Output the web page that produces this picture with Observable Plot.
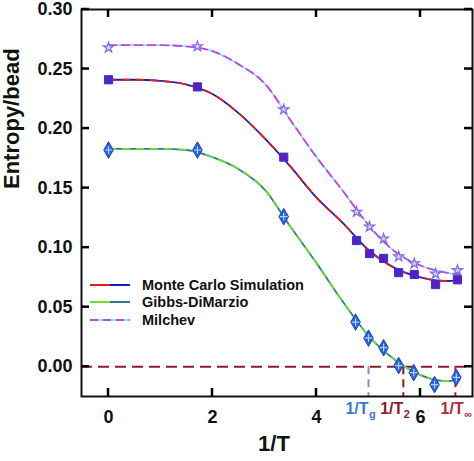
<!DOCTYPE html>
<html>
<head>
<meta charset="utf-8">
<script src="https://cdn.jsdelivr.net/npm/d3@7"></script>
<script src="https://cdn.jsdelivr.net/npm/@observablehq/plot@0.6"></script>
<style>
  body { margin: 0; background: #fff; font-family: "Liberation Sans", Arial, sans-serif; }
  #chart { position: relative; width: 474px; height: 461px; }
  #legend { position: absolute; left: 90px; top: 276px; font-weight: bold; font-size: 14.5px; color: #111; }
  #legend .row { display: flex; align-items: center; height: 17.5px; }
  #legend svg { margin-right: 12px; }
</style>
</head>
<body>
<div id="chart"></div>
<script>
// axis ticks
const xTicks = [0, 2, 4, 6];
const yTicks = [0, 0.05, 0.10, 0.15, 0.20, 0.25, 0.30];
const xMin = -0.52, xMax = 7.0, yMin = -0.025, yMax = 0.30;

// simulation / theory points
const mcX = [0, 1.71, 3.37, 4.77, 5.02, 5.29, 5.58, 5.88, 6.29, 6.71];
const mcY = [0.241, 0.235, 0.176, 0.106, 0.095, 0.091, 0.079, 0.0775, 0.069, 0.073];
const gdX = [0, 1.71, 3.37, 4.75, 5.0, 5.29, 5.58, 5.87, 6.27, 6.69];
const gdY = [0.182, 0.182, 0.126, 0.0375, 0.024, 0.016, 0.001, -0.005, -0.015, -0.009];
const miX = [0, 1.71, 3.37, 4.77, 5.02, 5.29, 5.58, 5.88, 6.29, 6.71];
const miY = [0.268, 0.269, 0.216, 0.130, 0.1175, 0.1075, 0.0925, 0.0867, 0.078, 0.081];

// fitted curves
const fitX  = [0, 0.5, 1, 1.5, 2, 2.5, 3, 3.5, 4, 4.5, 5, 5.5, 6, 6.5, 6.75];
const mcFit = [0.241, 0.241, 0.240, 0.237, 0.229, 0.213, 0.192, 0.168, 0.142, 0.121, 0.098, 0.083, 0.075, 0.072, 0.073];
const gdFit = [0.183, 0.183, 0.183, 0.182, 0.176, 0.166, 0.149, 0.1175, 0.087, 0.055, 0.026, 0.006, -0.007, -0.012, -0.011];
const miFit = [0.270, 0.270, 0.270, 0.269, 0.265, 0.254, 0.238, 0.207, 0.176, 0.148, 0.119, 0.097, 0.085, 0.079, 0.077];

// temperature markers
const tNames = ["g", "2", "\u221e"];
const tLineX = [5.0, 5.67, 6.67];
const tLabelX = [5.0, 5.67, 6.83];
const tLineColors = ["#8c8cc8", "#8b1a1a", "#b02a40"];
const tTextColors = ["#3a78d8", "#8b1a2a", "#b02a40"];

const pts = (xs, ys) => xs.map((x, i) => ({x, y: ys[i]}));
const mcPts = pts(mcX, mcY), gdPts = pts(gdX, gdY), miPts = pts(miX, miY);
const mcLine = pts(fitX, mcFit), gdLine = pts(fitX, gdFit), miLine = pts(fitX, miFit);
const temps = tNames.map((n, i) => ({n, x: tLineX[i], lx: tLabelX[i], lc: tLineColors[i], tc: tTextColors[i]}));

const series = [
  {name: "Monte Carlo Simulation", base: "#1c1cb4", over: "#e02020", dash: "7,7"},
  {name: "Gibbs-DiMarzio", base: "#2a7f86", over: "#6ade33", dash: "7,7"},
  {name: "Milchev", base: "#8fe2f2", over: "#c545e2", dash: "8,5"}
];

const tick = 8;

function fitLine(data, s) {
  return [
    Plot.line(data, {x: "x", y: "y", curve: "monotone-x", stroke: s.base, strokeWidth: 1.8}),
    Plot.line(data, {x: "x", y: "y", curve: "monotone-x", stroke: s.over, strokeWidth: 1.8, strokeDasharray: s.dash})
  ];
}

const plot = Plot.plot({
  width: 474,
  height: 461,
  marginLeft: 81,
  marginRight: 2,
  marginTop: 9,
  marginBottom: 65,
  x: {domain: [xMin, xMax]},
  y: {domain: [yMin, yMax]},
  style: {fontFamily: "'Liberation Sans', Arial, sans-serif", fontWeight: "bold", color: "#111", background: "#fff", overflow: "visible"},
  marks: [
    Plot.ruleY([0], {stroke: "#8b1c24", strokeWidth: 2, strokeDasharray: "11,6"}),
    Plot.ruleX(temps, {x: "x", y1: 0, y2: yMin, stroke: "lc", strokeWidth: 2, strokeDasharray: "8,5"}),
    ...fitLine(mcLine, series[0]),
    ...fitLine(gdLine, series[1]),
    ...fitLine(miLine, series[2]),
    Plot.dot(miPts, {x: "x", y: "y", symbol: "star", r: 3.2, fill: "#d4ccff", stroke: "#7d6be8", strokeWidth: 1.2}),
    Plot.dot(mcPts, {x: "x", y: "y", symbol: "square", r: 4.6, fill: "#5a1fc0", stroke: "#2b35d8", strokeWidth: 1}),
    Plot.dot(gdPts, {x: "x", y: "y", symbol: "diamond", r: 5, fill: "#2a62e0", stroke: "#1c40b8", strokeWidth: 1}),
    Plot.dot(gdPts, {x: "x", y: "y", symbol: "plus", r: 2.6, stroke: "#a8d8ff", strokeWidth: 1.2}),
    Plot.axisX({ticks: xTicks, tickSize: 0, tickPadding: 14, fontSize: 18, label: null}),
    Plot.axisY({ticks: yTicks, tickSize: 0, tickPadding: 9, fontSize: 18, tickFormat: ".2f", label: null}),
    Plot.frame({stroke: "#111", strokeWidth: 2}),
    Plot.text(temps, {x: "lx", y: yMin, text: () => "1/T", textAnchor: "end", lineAnchor: "top", dy: 6, fill: "tc", fontSize: 16}),
    Plot.text(temps, {x: "lx", y: yMin, text: "n", textAnchor: "start", lineAnchor: "top", dy: 14, dx: 0.5, fill: "tc", fontSize: 11}),
    Plot.text(["Entropy/bead"], {frameAnchor: "left", rotate: -90, dx: -70, dy: -14, fontSize: 22, fill: "#111"}),
    Plot.text(["1/T"], {frameAnchor: "bottom", dy: 54, dx: -3, fontSize: 22, fill: "#111"})
  ]
});

const chart = document.getElementById("chart");
chart.append(plot);

// inward ticks on all four sides, placed with the plot's own scales
const sx = plot.scale("x"), sy = plot.scale("y");
const x0 = sx.apply(xMin), x1 = sx.apply(xMax), y0 = sy.apply(yMin), y1 = sy.apply(yMax);
const tg = d3.select(plot).append("g").attr("stroke", "#000").attr("stroke-width", 2.5);
xTicks.forEach(v => {
  const px = sx.apply(v);
  tg.append("line").attr("x1", px).attr("x2", px).attr("y1", y0).attr("y2", y0 - tick);
  tg.append("line").attr("x1", px).attr("x2", px).attr("y1", y1).attr("y2", y1 + tick);
});
yTicks.forEach(v => {
  const py = sy.apply(v);
  tg.append("line").attr("y1", py).attr("y2", py).attr("x1", x0).attr("x2", x0 + tick);
  tg.append("line").attr("y1", py).attr("y2", py).attr("x1", x1).attr("x2", x1 - tick);
});

// legend drawn inside the frame
const legend = d3.select(chart).append("div").attr("id", "legend");
series.forEach(s => {
  const row = legend.append("div").attr("class", "row");
  const sv = row.append("svg").attr("width", 40).attr("height", 6);
  sv.append("line").attr("x1", 0).attr("x2", 40).attr("y1", 3).attr("y2", 3)
    .attr("stroke", s.base).attr("stroke-width", 2);
  sv.append("line").attr("x1", 0).attr("x2", 40).attr("y1", 3).attr("y2", 3)
    .attr("stroke", s.over).attr("stroke-width", 2).attr("stroke-dasharray", s.name == "Milchev" ? "8,5" : "20,20");
  row.append("span").text(s.name);
});
</script>
</body>
</html>
